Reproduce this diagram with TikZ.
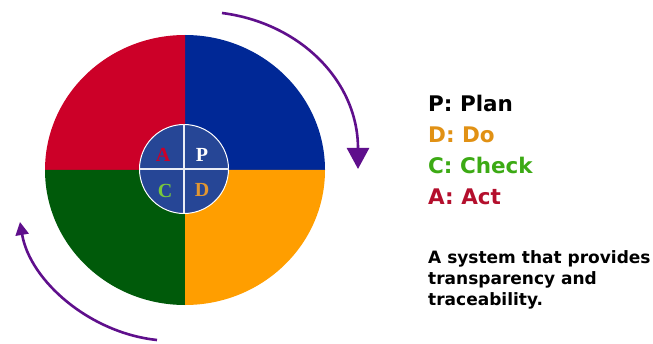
\documentclass[tikz,border=0pt]{standalone}
\usepackage{fontspec}
\setmainfont{DejaVu Sans}
\newfontfamily\serifbold{Liberation Serif}
\usetikzlibrary{arrows.meta,calc}
\definecolor{qred}{RGB}{204,0,40}
\definecolor{qblue}{RGB}{0,40,150}
\definecolor{qgreen}{RGB}{0,90,10}
\definecolor{qorange}{RGB}{255,158,0}
\definecolor{innerblue}{RGB}{38,70,150}
\definecolor{arrowpurple}{RGB}{95,15,140}
\definecolor{txtorange}{RGB}{225,145,20}
\definecolor{txtgreen}{RGB}{60,170,20}
\definecolor{txtred}{RGB}{180,15,45}
\definecolor{lettergreen}{RGB}{120,200,60}
\definecolor{letterorange}{RGB}{225,150,50}
\tikzset{
  legend/.style={anchor=base west, inner sep=0pt, font=\fontsize{21.5}{24}\selectfont\bfseries},
  para/.style={anchor=base west, inner sep=0pt, font=\fontsize{17}{21}\selectfont\bfseries},
  letter/.style={inner sep=0pt, font=\fontsize{20}{22}\serifbold\bfseries},
  cycarrow/.style={draw=arrowpurple, line width=2.6pt},
}
\begin{document}
\begin{tikzpicture}[x=1pt,y=1pt]
\useasboundingbox[fill=white] (0,0) rectangle (653,343);
\coordinate (c) at (185,173);
% quadrants
\fill[qblue] (c) -- ++(140,0) arc[start angle=0,end angle=90,x radius=140,y radius=135] -- cycle;
\fill[qred] (c) -- ++(0,135) arc[start angle=90,end angle=180,x radius=140,y radius=135] -- cycle;
\fill[qgreen] (c) -- ++(-140,0) arc[start angle=180,end angle=270,x radius=140,y radius=135] -- cycle;
\fill[qorange] (c) -- ++(0,-135) arc[start angle=270,end angle=360,x radius=140,y radius=135] -- cycle;
% inner circle
\coordinate (ic) at (184,174);
\draw[white, line width=1pt, fill=innerblue] (ic) circle[radius=44.5];
\draw[white!90!innerblue, line width=2.5pt] ($(ic)+(-44.5,0)$) -- ($(ic)+(44.5,0)$);
\draw[white!90!innerblue, line width=2.5pt] ($(ic)+(0,-44.5)$) -- ($(ic)+(0,44.5)$);
\node[letter, text=qred] (la) at (163,188) {A};
\node[letter, text=white] (lp) at (202,188) {P};
\node[letter, text=lettergreen] (lc) at (165,152) {C};
\node[letter, text=letterorange] (ld) at (202,153) {D};
% cycle arrows
\coordinate (a1s) at (222,330);
\coordinate (a1e) at (358,174);
\draw[cycarrow, -{Triangle[width=22pt,length=21pt]}] (a1s) .. controls (300,320) and (358,262) .. (a1e);
\coordinate (a2s) at (157,3);
\coordinate (a2e) at (20,121);
\draw[cycarrow, -{Triangle[width=13pt,length=13pt]}] (a2s) .. controls (90,10) and (30,62) .. (a2e);
% legend
\node[legend, text=black] (tp) at (428,231) {P: Plan};
\node[legend, text=txtorange] (td) at (428,200) {D: Do};
\node[legend, text=txtgreen] (tc) at (428,169) {C: Check};
\node[legend, text=txtred] (ta) at (428,139) {A: Act};
\node[para] (p1) at (428,80) {A system that provides};
\node[para] (p2) at (428,59) {transparency and};
\node[para] (p3) at (428,38) {traceability.};
\end{tikzpicture}
\end{document}
